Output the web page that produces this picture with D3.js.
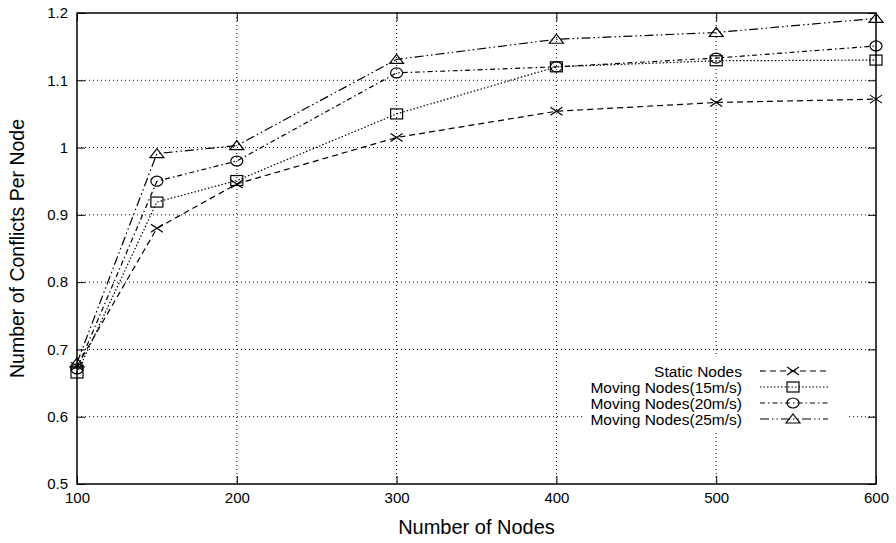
<!DOCTYPE html>
<html>
<head>
<meta charset="utf-8">
<script src="https://cdn.jsdelivr.net/npm/d3@7"></script>
<style>
  body { margin: 0; background: #fff; }
  svg { display: block; font-family: "Liberation Sans", Arial, sans-serif; }
</style>
</head>
<body>
<svg id="chart" width="896" height="543"></svg>
<script>
// data
const nodes = [100, 150, 200, 300, 400, 500, 600];
const staticNodes = [0.675, 0.880, 0.946, 1.015, 1.054, 1.067, 1.072];
const moving15 = [0.665, 0.919, 0.951, 1.050, 1.120, 1.129, 1.130];
const moving20 = [0.671, 0.950, 0.980, 1.111, 1.120, 1.133, 1.151];
const moving25 = [0.680, 0.991, 1.003, 1.131, 1.161, 1.171, 1.192];
const seriesNames = ['Static Nodes', 'Moving Nodes(15m/s)', 'Moving Nodes(20m/s)', 'Moving Nodes(25m/s)'];
const xTicks = [100, 200, 300, 400, 500, 600];
const yTicks = [0.5, 0.6, 0.7, 0.8, 0.9, 1, 1.1, 1.2];

const series = [
  { name: seriesNames[0], values: staticNodes, dash: '6,4', marker: 'cross' },
  { name: seriesNames[1], values: moving15, dash: '1.5,2', marker: 'square' },
  { name: seriesNames[2], values: moving20, dash: '5,3,1.5,3', marker: 'circle' },
  { name: seriesNames[3], values: moving25, dash: '9,3,1.5,3,1.5,3', marker: 'triangle' }
];

const margin = { top: 13, right: 20, bottom: 59, left: 77 };
const svg = d3.select('#chart');
const width = 896 - margin.left - margin.right;
const height = 543 - margin.top - margin.bottom;
const g = svg.append('g').attr('transform', `translate(${margin.left},${margin.top})`);

const x = d3.scaleLinear().domain([100, 600]).range([0, width]);
const y = d3.scaleLinear().domain([0.5, 1.2]).range([height, 0]);

// grid
g.append('g').selectAll('line')
  .data(yTicks.slice(1, -1))
  .enter().append('line')
  .attr('x1', 0).attr('x2', width)
  .attr('y1', d => y(d)).attr('y2', d => y(d))
  .attr('stroke', '#000').attr('stroke-width', 1)
  .attr('stroke-dasharray', '1,3');
g.append('g').selectAll('line')
  .data(xTicks.slice(1, -1))
  .enter().append('line')
  .attr('y1', 0).attr('y2', height)
  .attr('x1', d => x(d)).attr('x2', d => x(d))
  .attr('stroke', '#000').attr('stroke-width', 1)
  .attr('stroke-dasharray', '1,3');

// axes with inward, mirrored ticks
const tl = 8;
g.append('g')
  .attr('transform', `translate(0,${height})`)
  .call(d3.axisBottom(x).tickValues(xTicks).tickSizeInner(-tl).tickSizeOuter(0).tickPadding(8))
  .call(a => a.select('.domain').remove());
g.append('g')
  .call(d3.axisLeft(y).tickValues(yTicks).tickFormat(d3.format('')).tickSizeInner(-tl).tickSizeOuter(0).tickPadding(9))
  .call(a => a.select('.domain').remove());
g.append('g')
  .call(d3.axisTop(x).tickValues(xTicks).tickSizeInner(-tl).tickSizeOuter(0).tickFormat(''))
  .call(a => a.select('.domain').remove());
g.append('g')
  .attr('transform', `translate(${width},0)`)
  .call(d3.axisRight(y).tickValues(yTicks).tickSizeInner(-tl).tickSizeOuter(0).tickFormat(''))
  .call(a => a.select('.domain').remove());

g.selectAll('.tick text')
  .style('font-size', '15px')
  .attr('fill', '#000');
g.selectAll('.tick line').attr('stroke', '#000');

// frame
g.append('rect')
  .attr('width', width).attr('height', height)
  .attr('fill', 'none').attr('stroke', '#000').attr('stroke-width', 1.5);

// markers
function drawMarker(sel, type) {
  if (type === 'cross') {
    sel.append('path').attr('d', 'M-6,-4L6,4M-6,4L6,-4');
  } else if (type === 'square') {
    sel.append('rect').attr('x', -6).attr('y', -5).attr('width', 12).attr('height', 10).attr('fill', 'none');
  } else if (type === 'circle') {
    sel.append('ellipse').attr('rx', 6).attr('ry', 5).attr('fill', 'none');
  } else {
    sel.append('path').attr('d', 'M-7,4L7,4L0,-5Z').attr('fill', 'none');
  }
}

const line = d3.line()
  .x((d, i) => x(nodes[i]))
  .y(d => y(d));

series.forEach(s => {
  g.append('path')
    .datum(s.values)
    .attr('fill', 'none')
    .attr('stroke', '#000')
    .attr('stroke-width', 1.2)
    .attr('stroke-dasharray', s.dash)
    .attr('d', line);

  g.append('g').selectAll('g')
    .data(s.values)
    .enter().append('g')
    .attr('transform', (d, i) => `translate(${x(nodes[i])},${y(d)})`)
    .attr('stroke', '#000').attr('stroke-width', 1.2)
    .each(function() { drawMarker(d3.select(this), s.marker); });
});

// legend
const lg = g.append('g').attr('transform', 'translate(508,344)');
lg.append('rect')
  .attr('x', 0).attr('y', 0).attr('width', 261).attr('height', 73)
  .attr('fill', '#fff');
series.forEach((s, i) => {
  const row = lg.append('g').attr('transform', `translate(0,${14 + i * 16})`);
  row.append('text')
    .attr('x', 157).attr('y', 5.5)
    .attr('text-anchor', 'end')
    .style('font-size', '15.5px')
    .text(s.name);
  row.append('line')
    .attr('x1', 175).attr('x2', 243)
    .attr('stroke', '#000').attr('stroke-width', 1.2)
    .attr('stroke-dasharray', s.dash);
  const m = row.append('g').attr('transform', 'translate(208,0)')
    .attr('stroke', '#000').attr('stroke-width', 1.2);
  drawMarker(m, s.marker);
});

// axis titles
svg.append('text')
  .attr('x', margin.left + width / 2).attr('y', 534)
  .attr('text-anchor', 'middle')
  .style('font-size', '20px')
  .text('Number of Nodes');
svg.append('text')
  .attr('transform', `translate(24,${margin.top + height / 2}) rotate(-90)`)
  .attr('text-anchor', 'middle')
  .style('font-size', '19.5px')
  .text('Number of Conflicts Per Node');
</script>
</body>
</html>
